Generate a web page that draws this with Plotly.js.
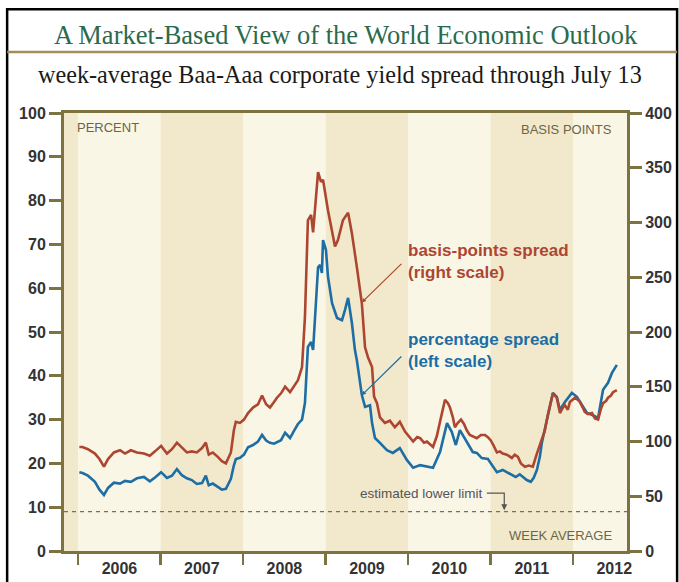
<!DOCTYPE html>
<html>
<head>
<meta charset="utf-8">
<script src="https://cdn.plot.ly/plotly-3.0.1.min.js"></script>
<style>html,body{margin:0;padding:0;background:#fff;}#chart{width:679px;height:582px;}</style>
</head>
<body>
<div id="chart"></div>
<script>
// ---- data ----
const redDates = ['2006-01-06','2006-01-20','2006-02-13','2006-03-16','2006-04-05','2006-04-25','2006-05-13','2006-06-08','2006-07-05','2006-07-27','2006-08-22','2006-09-18','2006-10-19','2006-11-14','2006-12-07',
'2007-01-03','2007-01-29','2007-02-20','2007-03-14','2007-04-05','2007-04-27','2007-05-19','2007-06-10','2007-07-03','2007-07-20','2007-08-02','2007-08-20','2007-09-11','2007-09-29','2007-10-17','2007-11-08','2007-11-21','2007-11-30','2007-12-18',
'2008-01-05','2008-01-23','2008-02-14','2008-03-07','2008-03-25','2008-04-12','2008-04-29','2008-05-17','2008-05-30','2008-06-17','2008-07-05','2008-07-27','2008-08-14','2008-08-31','2008-09-18','2008-10-01','2008-10-14','2008-10-28','2008-11-06','2008-11-15','2008-11-28','2008-12-11','2008-12-20',
'2009-01-11','2009-01-29','2009-02-11','2009-02-24','2009-03-18','2009-04-10','2009-04-27','2009-05-19','2009-06-10','2009-06-24','2009-07-07','2009-07-25','2009-08-03','2009-08-16','2009-08-29','2009-09-20','2009-10-12','2009-11-03','2009-11-25','2009-12-18',
'2010-01-05','2010-01-23','2010-02-10','2010-02-23','2010-03-12','2010-03-25','2010-04-21','2010-05-08','2010-05-22','2010-06-04','2010-06-13','2010-06-26','2010-07-05','2010-07-18','2010-07-27','2010-08-09','2010-08-23','2010-09-05','2010-09-18','2010-10-01','2010-10-19','2010-11-01','2010-11-19','2010-12-07','2010-12-20',
'2011-01-02','2011-01-15','2011-01-29','2011-02-11','2011-02-24','2011-03-14','2011-04-05','2011-04-18','2011-05-02','2011-05-15','2011-06-02','2011-06-19','2011-07-07','2011-07-25','2011-08-07','2011-08-16','2011-08-29','2011-09-11','2011-09-25','2011-10-04','2011-10-12','2011-10-21','2011-11-04','2011-11-17','2011-11-26','2011-12-09','2011-12-18',
'2012-01-01','2012-01-10','2012-01-23','2012-02-01','2012-02-13','2012-02-22','2012-03-07','2012-03-25','2012-04-07','2012-04-21','2012-05-04','2012-05-13','2012-05-26','2012-06-04','2012-06-17','2012-06-26','2012-07-13'];
const redBp = [95,95,93,89,84,77,84,90,92,89,92,90,89,87,91,
96,89,93,99,94,90,91,90,94,99,88,90,86,82,80,90,110,118,117,
120,126,131,134,142,134,131,136,140,144,150,145,151,156,168,214,302,307,291,311,346,337,339,
311,290,278,284,302,309,290,259,226,186,177,168,141,135,122,117,119,113,118,109,
104,100,104,103,99,100,95,105,118,130,138,135,131,122,113,117,120,116,110,106,104,103,106,106,104,
101,96,90,91,89,88,85,88,86,80,77,78,77,89,97,101,110,124,135,144,142,140,126,131,133,129,136,
138,140,138,136,131,127,125,126,121,120,130,135,137,140,142,145,147];

const blueDates = ['2006-01-06','2006-01-20','2006-02-13','2006-03-16','2006-04-05','2006-04-25','2006-05-13','2006-06-08','2006-07-05','2006-07-27','2006-08-22','2006-09-18','2006-10-19','2006-11-14','2006-12-07',
'2007-01-03','2007-01-29','2007-02-20','2007-03-14','2007-04-05','2007-04-27','2007-05-19','2007-06-10','2007-07-03','2007-07-20','2007-08-02','2007-08-20','2007-09-11','2007-09-29','2007-10-17','2007-11-08','2007-11-21','2007-11-30','2007-12-18',
'2008-01-05','2008-01-23','2008-02-14','2008-03-07','2008-03-25','2008-04-12','2008-04-29','2008-05-17','2008-05-30','2008-06-17','2008-07-05','2008-07-27','2008-08-14','2008-08-31','2008-09-18','2008-10-01','2008-10-14','2008-10-28','2008-11-06','2008-11-15','2008-11-28','2008-12-07','2008-12-15','2008-12-20',
'2009-01-02','2009-01-11','2009-01-29','2009-02-20','2009-03-14','2009-03-27','2009-04-10','2009-04-27','2009-05-10','2009-05-19','2009-06-10','2009-06-24','2009-07-16','2009-07-25','2009-08-07','2009-08-29','2009-09-29','2009-10-25','2009-11-25','2009-12-26',
'2010-01-23','2010-02-23','2010-03-25','2010-04-21','2010-05-22','2010-06-13','2010-06-22','2010-07-13','2010-07-31','2010-08-18','2010-09-18','2010-10-14','2010-11-01','2010-11-23','2010-12-20',
'2011-01-02','2011-01-29','2011-02-24','2011-03-23','2011-04-22','2011-05-10','2011-05-28','2011-06-10','2011-06-28','2011-07-11','2011-07-25','2011-08-07','2011-08-16','2011-09-11','2011-10-04','2011-10-21','2011-11-04','2011-11-26','2011-12-27',
'2012-01-18','2012-02-09','2012-03-03','2012-03-29','2012-04-21','2012-05-13','2012-06-04','2012-06-21','2012-07-13'];
const bluePct = [18.0,17.8,17.2,15.8,14.0,12.8,14.4,15.6,15.4,16.0,15.8,16.6,16.9,15.9,16.8,
18.0,16.7,17.2,18.7,17.3,16.6,16.2,15.3,15.5,17.2,15.0,15.4,14.6,14.0,14.2,16.5,19.5,21.0,21.3,
22.0,23.7,24.2,25.0,26.5,25.2,24.7,24.5,24.8,25.3,27.0,25.8,27.5,29.0,30.0,33.8,46.6,47.7,45.9,55.0,64.8,65.3,63.5,71.0,
68.7,62.6,56.6,53.2,52.7,55.0,57.8,52.0,46.0,43.5,35.6,32.9,33.3,29.2,25.8,24.7,23.0,22.4,23.5,20.8,
19.0,19.6,19.2,19.0,22.6,27.0,29.2,27.2,24.2,27.6,24.7,22.6,22.4,21.2,21.0,
20.1,18.0,18.5,17.8,16.9,17.5,16.7,16.2,15.8,16.7,18.5,21.5,24.7,30.6,36.1,35.2,32.2,34.0,36.1,
35.2,33.3,31.5,31.0,30.4,36.8,38.4,40.6,42.5];

const years = [2005,2006,2007,2008,2009,2010,2011,2012];
const leftTicks = [0,10,20,30,40,50,60,70,80,90,100];
const rightTicks = [0,50,100,150,200,250,300,350,400];
const lowerLimit = 9;

// ---- styles ----
const RED = '#ad4630', BLUE = '#1c6ea4', AX = '#7c7340';
const SANS = 'Liberation Sans, Arial, sans-serif';
const SERIF = 'Liberation Serif, Times New Roman, serif';

const bandLight = '#faf6e6', bandDark = '#f2e9cc';
const shapes = years.map((y, i) => ({
  type: 'rect', xref: 'x', yref: 'paper', layer: 'below',
  x0: y + '-01-01', x1: (y + 1) + '-01-01', y0: 0, y1: 1,
  fillcolor: (y % 2 === 0) ? bandLight : bandDark, line: {width: 0}
}));
shapes.push({type:'line', xref:'paper', yref:'y', x0:0, x1:1, y0:lowerLimit, y1:lowerLimit,
  line:{color:'#6f6f6f', width:1.3, dash:'4px,4px'}});
shapes.push({type:'path', xref:'paper', yref:'paper',
  path:'M 0.751 0.132 L 0.782 0.132 L 0.782 0.1',
  line:{color:'#555', width:1.2}});
shapes.push({type:'rect', xref:'paper', yref:'paper', x0:-0.101, x1:1.089, y0:-0.2, y1:1.237,
  line:{color:'#000', width:2.5}, fillcolor:'rgba(0,0,0,0)'});
shapes.push({type:'line', xref:'paper', yref:'paper', x0:-0.101, x1:1.089, y0:1.139, y1:1.139,
  line:{color:'#a48c5d', width:2.5}});

const traces = [
  {x: redDates, y: redBp, yaxis: 'y2', type: 'scatter', mode: 'lines',
   line: {color: RED, width: 2.6}, hoverinfo: 'skip'},
  {x: blueDates, y: bluePct, yaxis: 'y', type: 'scatter', mode: 'lines',
   line: {color: BLUE, width: 2.6}, hoverinfo: 'skip'}
];

const smallLbl = {family: SANS, size: 13, color: '#6b6547'};
const annotations = [
  {xref:'paper', yref:'paper', x:0.501, y:1.178, yanchor:'middle', text:'A Market-Based View of the World Economic Outlook',
   showarrow:false, font:{family:SERIF, size:26.5, color:'#2c6a4e'}},
  {xref:'paper', yref:'paper', x:0.49, y:1.087, yanchor:'middle', text:'week-average Baa-Aaa corporate yield spread through July 13',
   showarrow:false, font:{family:SERIF, size:24.2, color:'#1a1a1a'}},
  {xref:'paper', yref:'paper', x:0.02, y:0.966, xanchor:'left', yanchor:'middle', text:'PERCENT', showarrow:false, font:smallLbl},
  {xref:'paper', yref:'paper', x:0.977, y:0.962, xanchor:'right', yanchor:'middle', text:'BASIS POINTS', showarrow:false, font:smallLbl},
  {xref:'paper', yref:'paper', x:0.977, y:0.035, xanchor:'right', yanchor:'middle', text:'WEEK AVERAGE', showarrow:false, font:smallLbl},
  {xref:'paper', yref:'paper', x:0.748, y:0.132, xanchor:'right', yanchor:'middle', text:'estimated lower limit', showarrow:false,
   font:{family:SANS, size:13.5, color:'#555'}},
  {xref:'paper', yref:'y', x:0.782, y:lowerLimit + 0.3, text:'', showarrow:true, axref:'pixel', ayref:'pixel', ax:0, ay:-8,
   arrowhead:2, arrowsize:1, arrowwidth:1.2, arrowcolor:'#555'},
  {xref:'paper', yref:'paper', x:0.6075, y:0.662, xanchor:'left', yanchor:'middle', align:'left',
   text:'<b>basis-points spread<br>(right scale)</b>', showarrow:false, font:{family:SANS, size:17, color:RED}},
  {xref:'paper', yref:'paper', x:0.6075, y:0.458, xanchor:'left', yanchor:'middle', align:'left',
   text:'<b>percentage spread<br>(left scale)</b>', showarrow:false, font:{family:SANS, size:17, color:BLUE}},
  {xref:'x', yref:'y2', x:'2009-06-10', y:227, text:'', showarrow:true, ax:41, ay:-40,
   arrowhead:2, arrowsize:0.7, arrowwidth:1.2, arrowcolor:RED},
  {xref:'x', yref:'y', x:'2009-06-10', y:35.6, text:'', showarrow:true, ax:41, ay:-40,
   arrowhead:2, arrowsize:0.7, arrowwidth:1.2, arrowcolor:BLUE}
];

const tickFont = {family: SANS, size: 16, color: '#333', weight: 'bold'};
const layout = {
  width: 679, height: 582,
  margin: {l: 64, r: 52, t: 113, b: 31, pad: 0},
  paper_bgcolor: '#ffffff', plot_bgcolor: bandLight,
  showlegend: false,
  xaxis: {type: 'date', range: ['2005-10-30', '2012-08-27'],
    tick0: '2006-01-01', dtick: 'M12', tickformat: '%Y', ticklabelmode: 'period',
    ticks: 'outside', ticklen: 11, tickwidth: 2.5, tickcolor: AX, ticklabelstandoff: -10,
    showline: true, linecolor: AX, linewidth: 3, mirror: true,
    showgrid: false, zeroline: false, tickfont: {family: SANS, size: 16, color: '#333', weight: 'bold'}},
  yaxis: {range: [0, 100], tickvals: leftTicks, ticks: 'outside', ticklen: 12, tickwidth: 3, tickcolor: AX,
    showline: true, linecolor: AX, linewidth: 3, showgrid: false, zeroline: false, tickfont: tickFont},
  yaxis2: {range: [0, 400], tickvals: rightTicks, overlaying: 'y', side: 'right',
    ticks: 'outside', ticklen: 12, tickwidth: 3, tickcolor: AX,
    showline: true, linecolor: AX, linewidth: 3, showgrid: false, zeroline: false, tickfont: tickFont},
  shapes: shapes,
  annotations: annotations
};

Plotly.newPlot('chart', traces, layout, {staticPlot: true, displayModeBar: false});
</script>
</body>
</html>
